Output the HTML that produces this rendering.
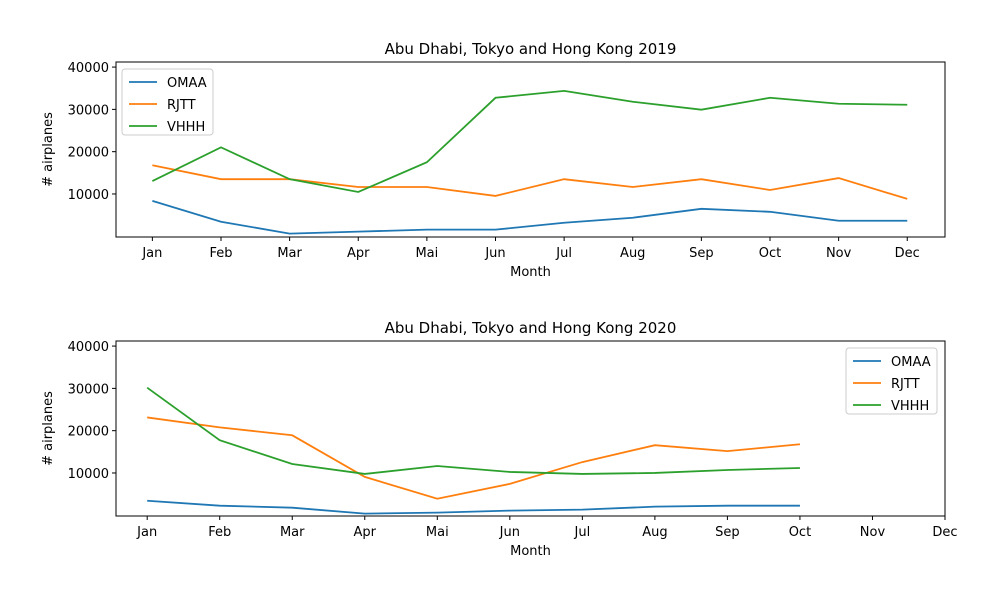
<!DOCTYPE html>
<html><head><meta charset="utf-8"><style>body{margin:0;background:#fff}svg{display:block;font-family:"DejaVu Sans","Liberation Sans",sans-serif}</style></head>
<body>
<svg id="c" width="1000" height="600"></svg>
<script>
const months=["Jan","Feb","Mar","Apr","Mai","Jun","Jul","Aug","Sep","Oct","Nov","Dec"];
const yTicks=[10000,20000,30000,40000];
const seriesNames=["OMAA","RJTT","VHHH"];
const colors=["#1f77b4","#ff7f0e","#2ca02c"];
const omaa2019=[8370,3440,630,1100,1570,1570,3200,4380,6490,5790,3680,3680];
const rjtt2019=[16800,13500,13500,11650,11650,9540,13500,11650,13500,10940,13760,8840];
const vhhh2019=[13050,21020,13500,10480,17500,32740,34380,31800,29930,32740,31330,31100];
const omaa2020=[3440,2270,1800,400,630,1100,1340,2040,2270,2270];
const rjtt2020=[23130,20790,18910,9070,3910,7430,12580,16570,15160,16800];
const vhhh2020=[30160,17740,12120,9770,11650,10250,9770,10010,10710,11180];
const svg=document.getElementById('c');const NS="http://www.w3.org/2000/svg";
function el(t,a,txt){const e=document.createElementNS(NS,t);for(const k in a)e.setAttribute(k,a[k]);if(txt!==undefined)e.textContent=txt;svg.appendChild(e);return e;}
function panel(top,xmin,xmax,data,title,legendX,key){
  const L=116,R=945,T=top,B=top+175,ymin=-170,ymax=41200;
  const sx=i=>L+(i-xmin)/(xmax-xmin)*(R-L);
  const sy=v=>B-(v-ymin)/(ymax-ymin)*(B-T);
  let t=el('text',{x:(L+R)/2,y:T-8,'text-anchor':'middle','font-size':15},title);
  
  months.forEach((m,i)=>{const x=sx(i);
    let l=el('line',{x1:x,x2:x,y1:B,y2:B+4,stroke:'#000'});
    let tx=el('text',{x:x,y:B+20,'text-anchor':'middle','font-size':13},m);});
  yTicks.forEach(v=>{const y=sy(v);
    let l=el('line',{x1:L-4,x2:L,y1:y,y2:y,stroke:'#000'});
    let tx=el('text',{x:L-7,y:y+5,'text-anchor':'end','font-size':13},String(v));});
  let xl=el('text',{x:(L+R)/2,y:B+39,'text-anchor':'middle','font-size':13},'Month');
  let yl=el('text',{x:0,y:0,'text-anchor':'middle','font-size':13,transform:`translate(52,${(T+B)/2}) rotate(-90)`},'# airplanes');
  data.forEach((d,s)=>{const pts=d.map((v,i)=>sx(i)+','+sy(v)).join(' ');
    let p=el('polyline',{points:pts,fill:'none',stroke:colors[s],'stroke-width':1.8});});
  let fr=el('rect',{x:L,y:T,width:R-L,height:B-T,fill:'none',stroke:'#000','stroke-width':1});
  let lg=el('rect',{x:legendX,y:T+7,width:91,height:66,fill:'#fff',stroke:'#ccc',rx:3});
  seriesNames.forEach((n,s)=>{const y=T+20+s*22;
    let l=el('line',{x1:legendX+7,x2:legendX+35,y1:y,y2:y,stroke:colors[s],'stroke-width':1.8});
    let tx=el('text',{x:legendX+45,y:y+5,'font-size':13},n);});
}
panel(62,-0.53,11.55,[omaa2019,rjtt2019,vhhh2019],'Abu Dhabi, Tokyo and Hong Kong 2019',122,'top');
panel(341,-0.43,11,[omaa2020,rjtt2020,vhhh2020],'Abu Dhabi, Tokyo and Hong Kong 2020',846,'bottom');
</script>
</body></html>
